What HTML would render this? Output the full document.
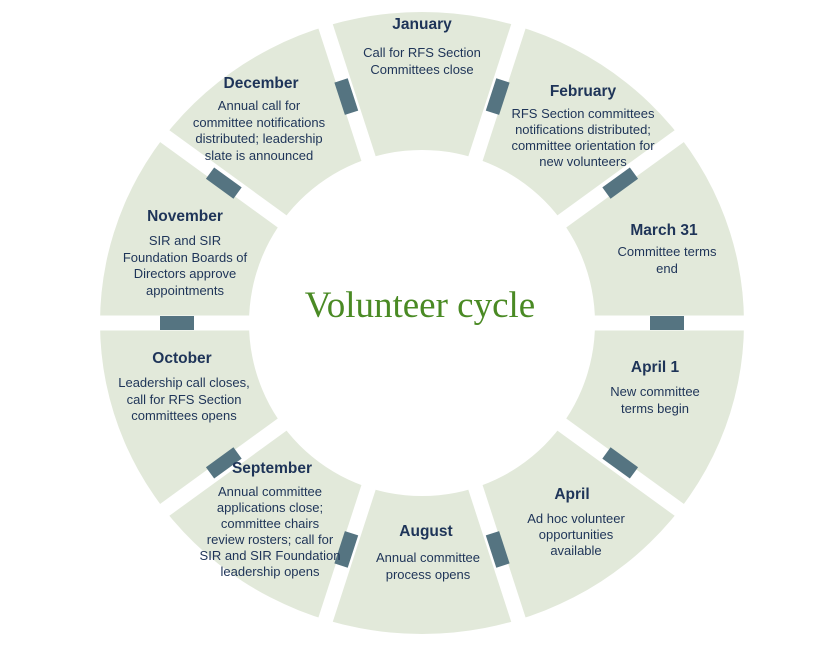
<!DOCTYPE html>
<html><head><meta charset="utf-8"><style>
body{margin:0;background:#fff;width:840px;height:645px;overflow:hidden}
text{font-family:"Liberation Sans",sans-serif;fill:#1e3458}
.t{font-weight:bold;font-size:15.5px}
.b{font-size:13px}
</style></head><body>
<svg width="840" height="645" viewBox="0 0 840 645">
<g id="ring"></g>
<text x="420" y="317" text-anchor="middle" style="font-family:'Liberation Serif',serif;font-size:37px;fill:#4a8a24">Volunteer cycle</text>
<g text-anchor="middle">
<text class="t" x="422" y="29">January</text>
<text class="b" x="422" y="57">Call for RFS Section</text>
<text class="b" x="422" y="74">Committees close</text>
<text class="t" x="583" y="96">February</text>
<text class="b" x="583" y="118">RFS Section committees</text>
<text class="b" x="583" y="134">notifications distributed;</text>
<text class="b" x="583" y="150">committee orientation for</text>
<text class="b" x="583" y="166">new volunteers</text>
<text class="t" x="664" y="235">March 31</text>
<text class="b" x="667" y="256">Committee terms</text>
<text class="b" x="667" y="273">end</text>
<text class="t" x="655" y="372">April 1</text>
<text class="b" x="655" y="396">New committee</text>
<text class="b" x="655" y="413">terms begin</text>
<text class="t" x="572" y="499">April</text>
<text class="b" x="576" y="523">Ad hoc volunteer</text>
<text class="b" x="576" y="539">opportunities</text>
<text class="b" x="576" y="555">available</text>
<text class="t" x="426" y="536">August</text>
<text class="b" x="428" y="562">Annual committee</text>
<text class="b" x="428" y="579">process opens</text>
<text class="t" x="272" y="473">September</text>
<text class="b" x="270" y="496">Annual committee</text>
<text class="b" x="270" y="512">applications close;</text>
<text class="b" x="270" y="528">committee chairs</text>
<text class="b" x="270" y="544">review rosters; call for</text>
<text class="b" x="270" y="560">SIR and SIR Foundation</text>
<text class="b" x="270" y="576">leadership opens</text>
<text class="t" x="182" y="363">October</text>
<text class="b" x="184" y="387">Leadership call closes,</text>
<text class="b" x="184" y="404">call for RFS Section</text>
<text class="b" x="184" y="420">committees opens</text>
<text class="t" x="185" y="221">November</text>
<text class="b" x="185" y="245">SIR and SIR</text>
<text class="b" x="185" y="262">Foundation Boards of</text>
<text class="b" x="185" y="278">Directors approve</text>
<text class="b" x="185" y="295">appointments</text>
<text class="t" x="261" y="88">December</text>
<text class="b" x="259" y="110">Annual call for</text>
<text class="b" x="259" y="127">committee notifications</text>
<text class="b" x="259" y="143">distributed; leadership</text>
<text class="b" x="259" y="160">slate is announced</text>
</g>
</svg>
<script>
var g=document.getElementById('ring'),cx=422,cy=323,s='';
function P(a,rx,ry){a=a*Math.PI/180;return [(cx+rx*Math.cos(a)).toFixed(1),(cy+(ry||rx)*Math.sin(a)).toFixed(1)];}
s+='<path fill-rule="evenodd" fill="#e2e9da" d="M'+(cx-322)+','+cy+' a322,311 0 1,0 644,0 a322,311 0 1,0 -644,0 Z M'+(cx-173)+','+cy+' a173,173 0 1,0 346,0 a173,173 0 1,0 -346,0 Z"/>';
for(var i=0;i<10;i++){var a=-72+36*i;var p1=P(a,150),p2=P(a,340);
s+='<line x1="'+p1[0]+'" y1="'+p1[1]+'" x2="'+p2[0]+'" y2="'+p2[1]+'" stroke="#fff" stroke-width="15"/>';
var p=P(a,245,238);
s+='<rect x="-17" y="-7" width="34" height="14" fill="#557481" transform="translate('+p[0]+','+p[1]+') rotate('+a+')"/>';}
g.innerHTML=s;
</script>
</body></html>
